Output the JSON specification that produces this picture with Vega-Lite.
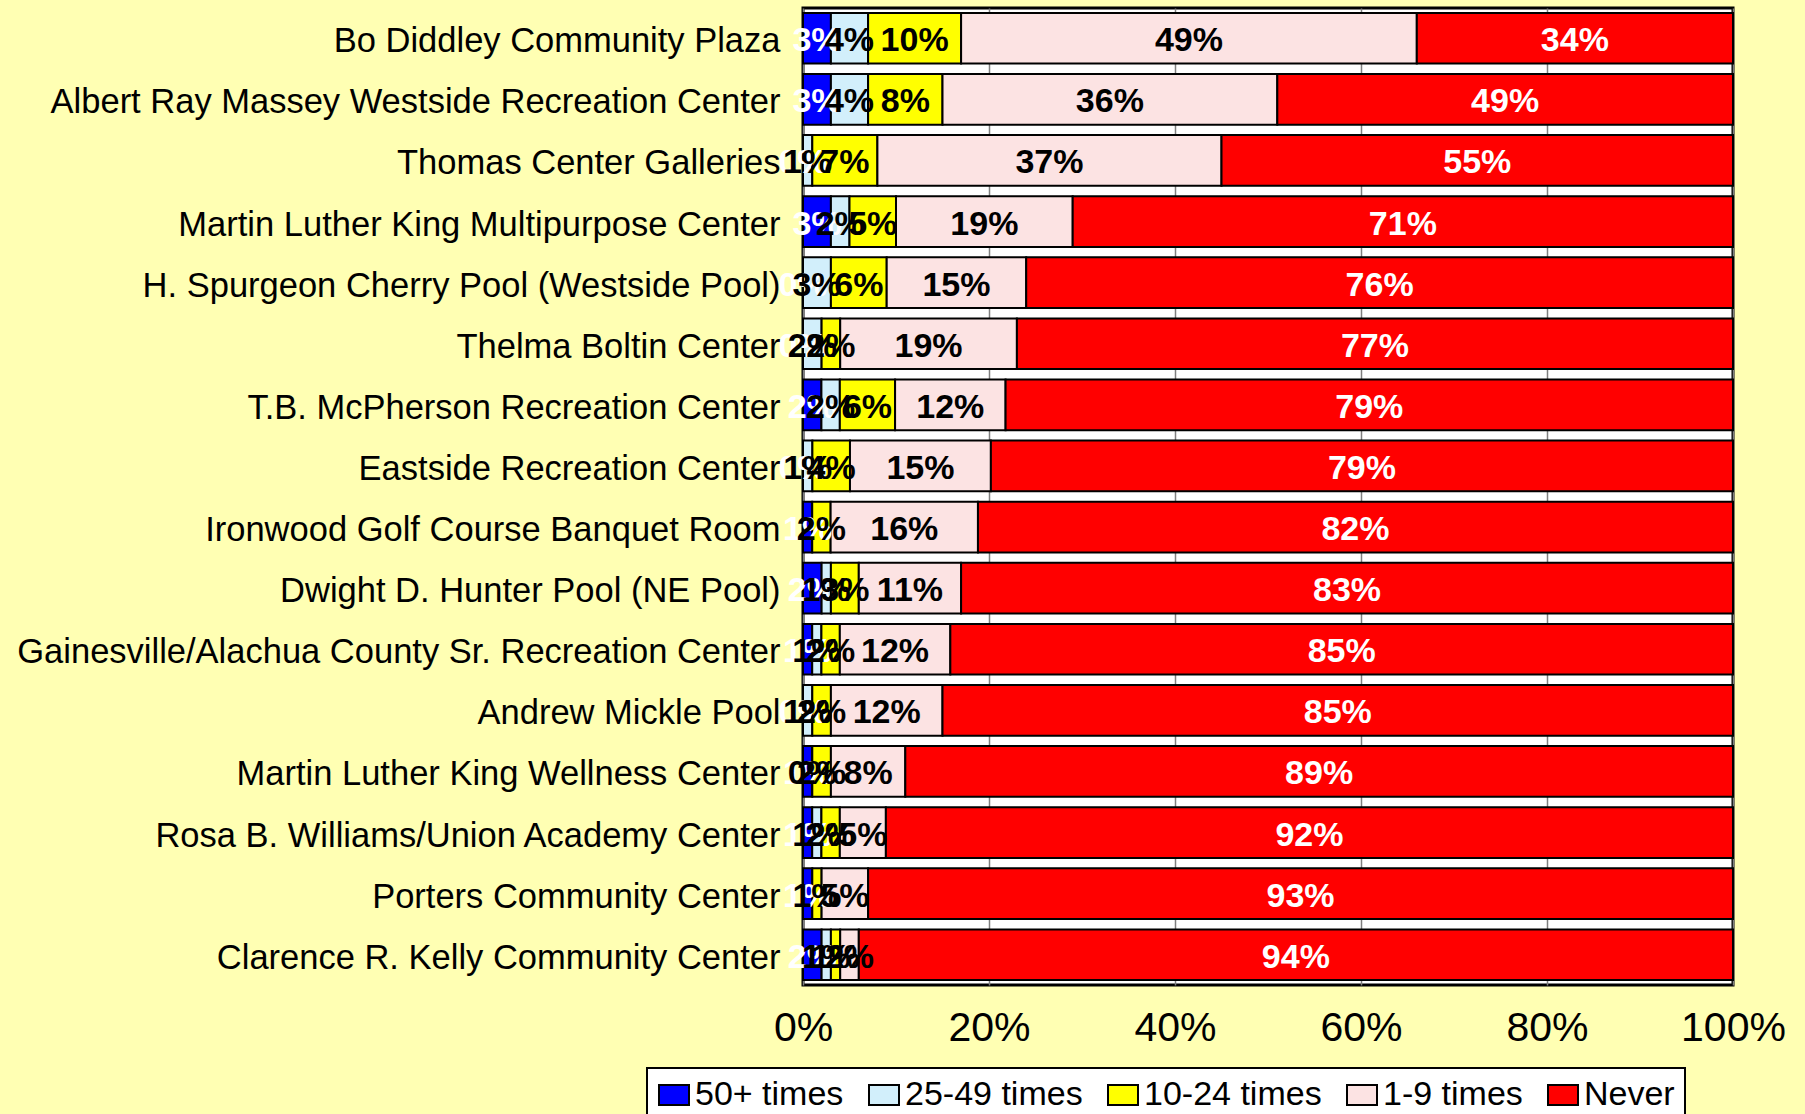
{
  "$schema": "https://vega.github.io/schema/vega-lite/v6.json",
  "width": 930,
  "height": 977,
  "autosize": {"type": "none"},
  "padding": {"left": 803, "top": 8, "right": 72, "bottom": 129},
  "background": "#FFFFB3",
  "data": {
    "values": [
      {"f": "Bo Diddley Community Plaza", "c": "50+ times", "k": 1, "v": 0.03},
      {"f": "Bo Diddley Community Plaza", "c": "25-49 times", "k": 2, "v": 0.04},
      {"f": "Bo Diddley Community Plaza", "c": "10-24 times", "k": 3, "v": 0.10},
      {"f": "Bo Diddley Community Plaza", "c": "1-9 times", "k": 4, "v": 0.49},
      {"f": "Bo Diddley Community Plaza", "c": "Never", "k": 5, "v": 0.34},
      {"f": "Albert Ray Massey Westside Recreation Center", "c": "50+ times", "k": 1, "v": 0.03},
      {"f": "Albert Ray Massey Westside Recreation Center", "c": "25-49 times", "k": 2, "v": 0.04},
      {"f": "Albert Ray Massey Westside Recreation Center", "c": "10-24 times", "k": 3, "v": 0.08},
      {"f": "Albert Ray Massey Westside Recreation Center", "c": "1-9 times", "k": 4, "v": 0.36},
      {"f": "Albert Ray Massey Westside Recreation Center", "c": "Never", "k": 5, "v": 0.49},
      {"f": "Thomas Center Galleries", "c": "50+ times", "k": 1, "v": 0.0},
      {"f": "Thomas Center Galleries", "c": "25-49 times", "k": 2, "v": 0.01},
      {"f": "Thomas Center Galleries", "c": "10-24 times", "k": 3, "v": 0.07},
      {"f": "Thomas Center Galleries", "c": "1-9 times", "k": 4, "v": 0.37},
      {"f": "Thomas Center Galleries", "c": "Never", "k": 5, "v": 0.55},
      {"f": "Martin Luther King Multipurpose Center", "c": "50+ times", "k": 1, "v": 0.03},
      {"f": "Martin Luther King Multipurpose Center", "c": "25-49 times", "k": 2, "v": 0.02},
      {"f": "Martin Luther King Multipurpose Center", "c": "10-24 times", "k": 3, "v": 0.05},
      {"f": "Martin Luther King Multipurpose Center", "c": "1-9 times", "k": 4, "v": 0.19},
      {"f": "Martin Luther King Multipurpose Center", "c": "Never", "k": 5, "v": 0.71},
      {"f": "H. Spurgeon Cherry Pool (Westside Pool)", "c": "50+ times", "k": 1, "v": 0.0},
      {"f": "H. Spurgeon Cherry Pool (Westside Pool)", "c": "25-49 times", "k": 2, "v": 0.03},
      {"f": "H. Spurgeon Cherry Pool (Westside Pool)", "c": "10-24 times", "k": 3, "v": 0.06},
      {"f": "H. Spurgeon Cherry Pool (Westside Pool)", "c": "1-9 times", "k": 4, "v": 0.15},
      {"f": "H. Spurgeon Cherry Pool (Westside Pool)", "c": "Never", "k": 5, "v": 0.76},
      {"f": "Thelma Boltin Center", "c": "50+ times", "k": 1, "v": 0.0},
      {"f": "Thelma Boltin Center", "c": "25-49 times", "k": 2, "v": 0.02},
      {"f": "Thelma Boltin Center", "c": "10-24 times", "k": 3, "v": 0.02},
      {"f": "Thelma Boltin Center", "c": "1-9 times", "k": 4, "v": 0.19},
      {"f": "Thelma Boltin Center", "c": "Never", "k": 5, "v": 0.77},
      {"f": "T.B. McPherson Recreation Center", "c": "50+ times", "k": 1, "v": 0.02},
      {"f": "T.B. McPherson Recreation Center", "c": "25-49 times", "k": 2, "v": 0.02},
      {"f": "T.B. McPherson Recreation Center", "c": "10-24 times", "k": 3, "v": 0.06},
      {"f": "T.B. McPherson Recreation Center", "c": "1-9 times", "k": 4, "v": 0.12},
      {"f": "T.B. McPherson Recreation Center", "c": "Never", "k": 5, "v": 0.79},
      {"f": "Eastside Recreation Center", "c": "50+ times", "k": 1, "v": 0.0},
      {"f": "Eastside Recreation Center", "c": "25-49 times", "k": 2, "v": 0.01},
      {"f": "Eastside Recreation Center", "c": "10-24 times", "k": 3, "v": 0.04},
      {"f": "Eastside Recreation Center", "c": "1-9 times", "k": 4, "v": 0.15},
      {"f": "Eastside Recreation Center", "c": "Never", "k": 5, "v": 0.79},
      {"f": "Ironwood Golf Course Banquet Room", "c": "50+ times", "k": 1, "v": 0.01},
      {"f": "Ironwood Golf Course Banquet Room", "c": "10-24 times", "k": 3, "v": 0.02},
      {"f": "Ironwood Golf Course Banquet Room", "c": "1-9 times", "k": 4, "v": 0.16},
      {"f": "Ironwood Golf Course Banquet Room", "c": "Never", "k": 5, "v": 0.82},
      {"f": "Dwight D. Hunter Pool (NE Pool)", "c": "50+ times", "k": 1, "v": 0.02},
      {"f": "Dwight D. Hunter Pool (NE Pool)", "c": "25-49 times", "k": 2, "v": 0.01},
      {"f": "Dwight D. Hunter Pool (NE Pool)", "c": "10-24 times", "k": 3, "v": 0.03},
      {"f": "Dwight D. Hunter Pool (NE Pool)", "c": "1-9 times", "k": 4, "v": 0.11},
      {"f": "Dwight D. Hunter Pool (NE Pool)", "c": "Never", "k": 5, "v": 0.83},
      {"f": "Gainesville/Alachua County Sr. Recreation Center", "c": "50+ times", "k": 1, "v": 0.01},
      {"f": "Gainesville/Alachua County Sr. Recreation Center", "c": "25-49 times", "k": 2, "v": 0.01},
      {"f": "Gainesville/Alachua County Sr. Recreation Center", "c": "10-24 times", "k": 3, "v": 0.02},
      {"f": "Gainesville/Alachua County Sr. Recreation Center", "c": "1-9 times", "k": 4, "v": 0.12},
      {"f": "Gainesville/Alachua County Sr. Recreation Center", "c": "Never", "k": 5, "v": 0.85},
      {"f": "Andrew Mickle Pool", "c": "50+ times", "k": 1, "v": 0.0},
      {"f": "Andrew Mickle Pool", "c": "25-49 times", "k": 2, "v": 0.01},
      {"f": "Andrew Mickle Pool", "c": "10-24 times", "k": 3, "v": 0.02},
      {"f": "Andrew Mickle Pool", "c": "1-9 times", "k": 4, "v": 0.12},
      {"f": "Andrew Mickle Pool", "c": "Never", "k": 5, "v": 0.85},
      {"f": "Martin Luther King Wellness Center", "c": "50+ times", "k": 1, "v": 0.01},
      {"f": "Martin Luther King Wellness Center", "c": "25-49 times", "k": 2, "v": 0.0},
      {"f": "Martin Luther King Wellness Center", "c": "10-24 times", "k": 3, "v": 0.02},
      {"f": "Martin Luther King Wellness Center", "c": "1-9 times", "k": 4, "v": 0.08},
      {"f": "Martin Luther King Wellness Center", "c": "Never", "k": 5, "v": 0.89},
      {"f": "Rosa B. Williams/Union Academy Center", "c": "50+ times", "k": 1, "v": 0.01},
      {"f": "Rosa B. Williams/Union Academy Center", "c": "25-49 times", "k": 2, "v": 0.01},
      {"f": "Rosa B. Williams/Union Academy Center", "c": "10-24 times", "k": 3, "v": 0.02},
      {"f": "Rosa B. Williams/Union Academy Center", "c": "1-9 times", "k": 4, "v": 0.05},
      {"f": "Rosa B. Williams/Union Academy Center", "c": "Never", "k": 5, "v": 0.92},
      {"f": "Porters Community Center", "c": "50+ times", "k": 1, "v": 0.01},
      {"f": "Porters Community Center", "c": "10-24 times", "k": 3, "v": 0.01},
      {"f": "Porters Community Center", "c": "1-9 times", "k": 4, "v": 0.05},
      {"f": "Porters Community Center", "c": "Never", "k": 5, "v": 0.93},
      {"f": "Clarence R. Kelly Community Center", "c": "50+ times", "k": 1, "v": 0.02},
      {"f": "Clarence R. Kelly Community Center", "c": "25-49 times", "k": 2, "v": 0.01},
      {"f": "Clarence R. Kelly Community Center", "c": "10-24 times", "k": 3, "v": 0.01},
      {"f": "Clarence R. Kelly Community Center", "c": "1-9 times", "k": 4, "v": 0.02},
      {"f": "Clarence R. Kelly Community Center", "c": "Never", "k": 5, "v": 0.94}
    ]
  },
  "transform": [
    {"stack": "v", "groupby": ["f"], "sort": [{"field": "k", "order": "ascending"}], "as": ["v0", "v1"], "offset": "normalize"},
    {"calculate": "(datum.v0 + datum.v1) / 2", "as": "mid"}
  ],
  "encoding": {
    "y": {
      "field": "f", "type": "nominal", "sort": null, "title": null,
      "scale": {"paddingInner": 0.17, "paddingOuter": 0.08},
      "axis": {"labelFontSize": 34.5, "labelFont": "Liberation Sans", "labelColor": "black", "labelPadding": 23, "labelOffset": 4, "ticks": false, "domain": false, "labelLimit": 900}
    }
  },
  "layer": [
    {
      "mark": {"type": "bar", "stroke": "black", "strokeWidth": 2},
      "encoding": {
        "x": {
          "field": "v0", "type": "quantitative", "title": null,
          "scale": {"domain": [0, 1], "nice": false},
          "axis": {"format": "%", "values": [0, 0.2, 0.4, 0.6, 0.8, 1], "labelFontSize": 41, "labelFont": "Liberation Sans", "labelColor": "black", "labelPadding": 23, "ticks": false, "domain": false, "grid": true, "gridColor": "#7f7f7f", "gridWidth": 1.5, "labelFlush": false}
        },
        "x2": {"field": "v1"},
        "color": {
          "field": "c", "type": "nominal", "title": null,
          "scale": {
            "domain": ["50+ times", "25-49 times", "10-24 times", "1-9 times", "Never"],
            "range": ["#0000FF", "#D2EFFB", "#FFFF00", "#FCE3E3", "#FF0000"]
          },
          "legend": {
            "orient": "none", "legendX": -156, "legendY": 1060, "direction": "horizontal",
            "columns": 5, "labelFontSize": 34, "labelFont": "Liberation Sans", "labelColor": "black",
            "symbolType": "M-1,-0.667H1V0.667H-1Z", "symbolSize": 900, "symbolStrokeColor": "black", "symbolStrokeWidth": 2, "symbolOpacity": 1,
            "labelOffset": 4, "columnPadding": 21, "padding": 10,
            "strokeColor": "black", "fillColor": "white", "labelLimit": 400
          }
        }
      }
    },
    {
      "mark": {"type": "text", "fontSize": 34, "fontWeight": "bold", "font": "Liberation Sans", "align": "center", "baseline": "middle", "dy": 3},
      "encoding": {
        "x": {"field": "mid", "type": "quantitative"},
        "text": {"field": "v", "type": "quantitative", "format": ".0%"},
        "color": {
          "condition": {"test": "datum.c === '50+ times' || datum.c === 'Never'", "value": "white"},
          "value": "black"
        }
      }
    }
  ],
  "config": {
    "view": {"stroke": "black", "strokeWidth": 3, "fill": "white"},
    "legend": {"strokeWidth": 2}
  }
}
